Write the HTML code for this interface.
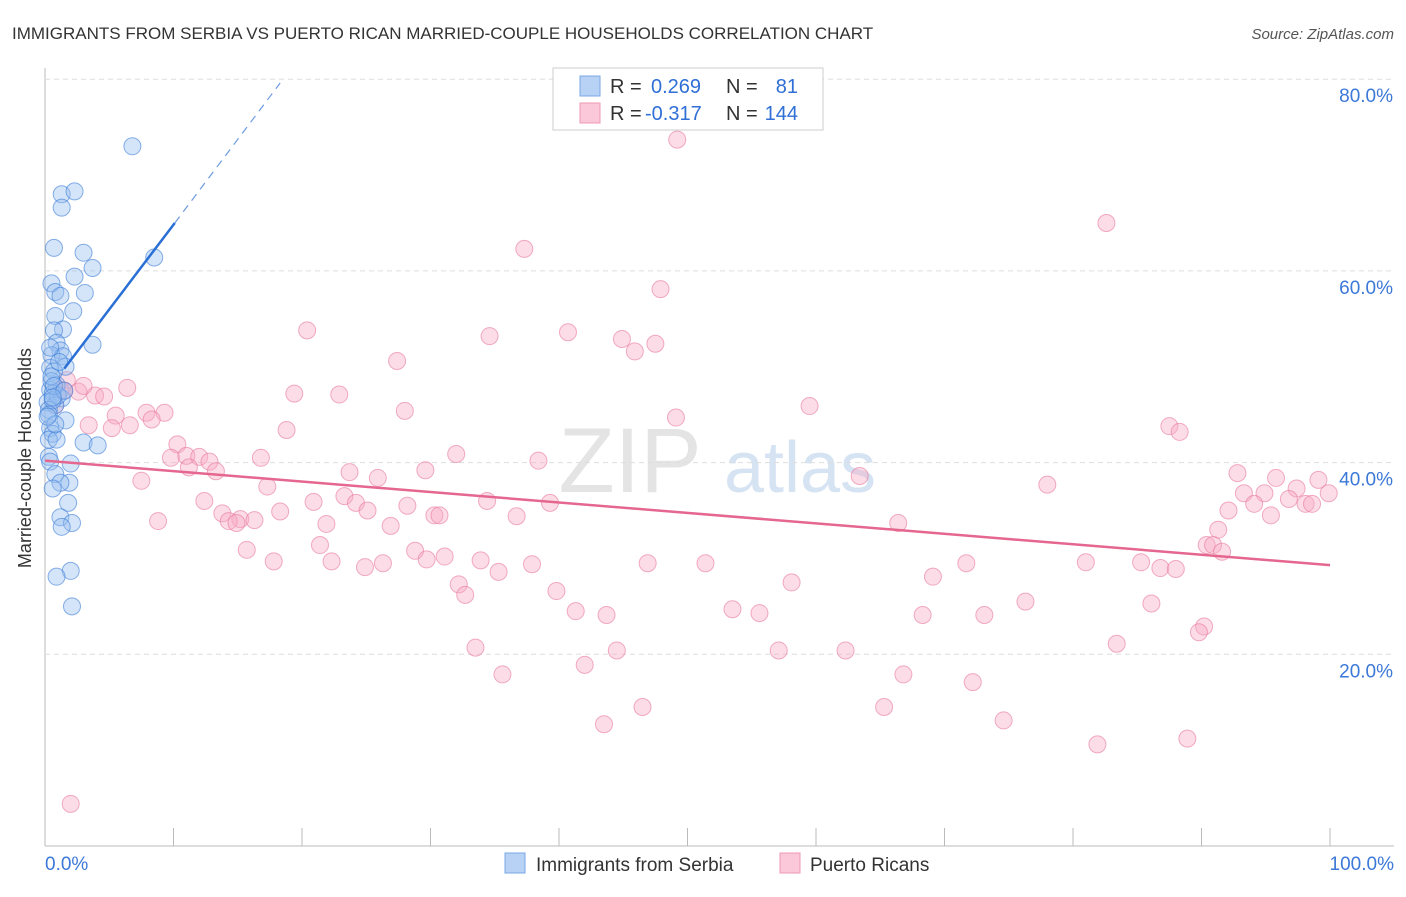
<!DOCTYPE html>
<html><head><meta charset="utf-8">
<style>
body{margin:0;background:#fff;font-family:"Liberation Sans",sans-serif;}
svg text{font-family:"Liberation Sans",sans-serif;}
</style></head>
<body>
<svg id="chart" width="1406" height="892" xmlns="http://www.w3.org/2000/svg">
<text x="12" y="39" font-size="17" fill="#333">IMMIGRANTS FROM SERBIA VS PUERTO RICAN MARRIED-COUPLE HOUSEHOLDS CORRELATION CHART</text>
<text x="1394" y="39" font-size="15" fill="#555" text-anchor="end" font-style="italic">Source: ZipAtlas.com</text>
<text x="31" y="458" font-size="18" fill="#333" text-anchor="middle" transform="rotate(-90 31 458)">Married-couple Households</text>
<g><text x="630" y="492" font-size="92" fill="#e4e4e4" text-anchor="middle" font-family="Liberation Serif">ZIP</text><text x="800" y="492" font-size="72" fill="#d6e3f3" text-anchor="middle">atlas</text></g>
<g id="grid"></g><g id="pts"></g><g id="lines"></g>
<g>
<rect x="553" y="68" width="270" height="62" fill="#fff" stroke="#ccc"/>
<rect x="580" y="76" width="20" height="20" fill="#b8d2f5" stroke="#7aa7e6"/>
<rect x="580" y="103" width="20" height="20" fill="#fac8d8" stroke="#ef9ab5"/>
<text x="610" y="93" font-size="20" fill="#333">R = </text><text x="651" y="93" font-size="20" fill="#2f6fd6">0.269</text>
<text x="726" y="93" font-size="20" fill="#333">N = </text><text x="798" y="93" font-size="20" fill="#2f6fd6" text-anchor="end">81</text>
<text x="610" y="120" font-size="20" fill="#333">R = </text><text x="645" y="120" font-size="20" fill="#2f6fd6">-0.317</text>
<text x="726" y="120" font-size="20" fill="#333">N = </text><text x="798" y="120" font-size="20" fill="#2f6fd6" text-anchor="end">144</text>
</g>
<g>
<rect x="505" y="853" width="20" height="20" fill="#b8d2f5" stroke="#7aa7e6"/>
<text x="536" y="871" font-size="19" fill="#333">Immigrants from Serbia</text>
<rect x="780" y="853" width="20" height="20" fill="#fac8d8" stroke="#ef9ab5"/>
<text x="810" y="871" font-size="19" fill="#333">Puerto Ricans</text>
</g>
</svg>
<script>
const xTickLabels=["0.0%","100.0%"];
const yTicks=[20,40,60,80];
const yTickLabels=["20.0%","40.0%","60.0%","80.0%"];
const blueX=[6.8,1.3,2.3,1.3,0.7,3,8.5,3.7,2.3,0.5,0.8,1.2,3.1,2.2,0.8,1.4,0.7,3.7,0.9,1.2,0.5,1.4,1.6,0.4,0.7,0.9,0.4,0.6,1.3,0.2,0.8,0.3,1.6,0.4,0.6,0.3,0.9,3,4.1,0.3,0.4,2,0.8,1.9,1.2,0.6,1.8,1.2,2.1,1.3,2,0.9,2.1,0.5,1,0.6,0.3,0.8,0.5,1.1,0.4,0.7,0.2,1.5,0.6];
const blueY=[73,68,68.3,66.6,62.4,61.9,61.4,60.3,59.4,58.7,57.8,57.4,57.7,55.8,55.3,53.9,53.8,52.3,52.5,51.7,51.2,51.1,50,49.9,49.5,48.1,47.6,47.2,46.7,46.3,46,45.5,44.4,43.6,43,42.4,42.4,42.1,41.8,40.6,40.1,39.9,38.8,37.9,37.9,37.3,35.8,34.3,33.7,33.3,28.7,28.1,25,48.5,47,46.5,45,44,49,50.5,52,48,44.8,47.5,46.8];
const pinkX=[49.2,82.6,37.3,47.9,20.4,34.6,40.7,44.9,47.5,45.9,27.4,6.4,19.4,22.9,1.7,1.2,2.6,3.9,4.6,28,59.5,49.1,7.9,9.3,8.3,5.5,6.6,5.2,3.4,18.8,87.5,88.3,10.3,9.8,11,12,12.8,16.8,32,38.4,29.6,23.7,25.9,11.2,13.3,7.5,17.3,63.4,78,92.8,95.8,99.1,93.3,94.9,97.4,99.9,96.8,98.1,98.6,94.1,95.4,92.1,12.4,13.8,15.2,16.3,14.3,8.8,20.9,23.3,24.2,25.1,28.2,34.4,39.3,30.3,30.7,36.7,14.9,21.9,26.9,18.3,91.3,90.4,90.9,91.6,66.4,15.7,21.4,17.8,22.3,26.3,28.8,29.7,31.1,24.9,33.9,35.3,37.9,46.9,51.4,71.7,81,85.3,32.2,32.7,39.8,58.1,69.1,86.8,88,41.3,43.7,53.5,55.6,68.3,73.1,76.3,86.1,90.2,89.8,33.5,57.1,62.3,83.4,44.5,42,66.8,72.2,35.6,65.3,46.5,74.6,43.5,88.9,81.9,2,3,1.5,0.8];
const pinkY=[73.7,65,62.3,58.1,53.8,53.2,53.6,52.9,52.4,51.6,50.6,47.8,47.2,47.1,48.6,47.6,47.4,47,46.9,45.4,45.9,44.7,45.2,45.2,44.5,44.9,43.9,43.6,43.9,43.4,43.8,43.2,41.9,40.5,40.7,40.6,40.1,40.5,40.9,40.2,39.2,39,38.4,39.5,39.1,38.1,37.5,38.6,37.7,38.9,38.4,38.2,36.8,36.8,37.3,36.8,36.2,35.7,35.7,35.7,34.5,35,36,34.7,34.1,34.0,33.9,33.9,35.9,36.5,35.8,35,35.5,36,35.8,34.5,34.5,34.4,33.7,33.6,33.4,34.9,33.0,31.4,31.4,30.7,33.7,30.9,31.4,29.7,29.7,29.5,30.8,29.9,30.2,29.1,29.8,28.6,29.4,29.5,29.5,29.5,29.6,29.6,27.3,26.2,26.6,27.5,28.1,29.0,28.9,24.5,24.1,24.7,24.3,24.1,24.1,25.5,25.3,22.9,22.3,20.7,20.4,20.4,21.1,20.4,18.9,17.9,17.1,17.9,14.5,14.5,13.1,12.7,11.2,10.6,4.4,48,47.5,46,45];
const blueTrend=[[1.5,49.8],[10.1,65]];
const blueTrendExt=[[10.1,65],[18.3,79.6]];
const pinkTrend=[[0,40.2],[100,29.3]];
const X=v=>45+v*12.85, Y=v=>846-v*9.585;
const NS="http://www.w3.org/2000/svg";
function mk(tag,attrs,parent){const e=document.createElementNS(NS,tag);for(const k in attrs)e.setAttribute(k,attrs[k]);document.getElementById(parent).appendChild(e);return e;}
let ax=mk('line',{x1:45,y1:68,x2:45,y2:846,stroke:'#bbb'},'grid');


let bx=mk('line',{x1:45,y1:846,x2:1394,y2:846,stroke:'#bbb'},'grid');


for(let i=1;i<=10;i++){let t=mk('line',{x1:X(i*10),y1:828,x2:X(i*10),y2:846,stroke:'#bbb'},'grid');

}
yTicks.forEach((v,i)=>{let g=mk('line',{x1:45,y1:Y(v),x2:1394,y2:Y(v),stroke:'#ddd','stroke-dasharray':'5,4'},'grid');


let t=mk('text',{x:1393,y:Y(v)+23,'font-size':19,fill:'#3c78d8','text-anchor':'end'},'grid');t.textContent=yTickLabels[i];

});
let xl=mk('text',{x:45,y:870,'font-size':19,fill:'#3c78d8'},'grid');xl.textContent=xTickLabels[0];


let xr=mk('text',{x:1394,y:870,'font-size':19,fill:'#3c78d8','text-anchor':'end'},'grid');xr.textContent=xTickLabels[1];


pinkX.forEach((v,i)=>{let c=mk('circle',{cx:X(v),cy:Y(pinkY[i]),r:8.5,fill:'rgba(247,170,195,0.4)',stroke:'rgba(232,120,158,0.6)','stroke-width':1},'pts');

});
blueX.forEach((v,i)=>{let c=mk('circle',{cx:X(v),cy:Y(blueY[i]),r:8.5,fill:'rgba(150,190,240,0.4)',stroke:'rgba(60,125,215,0.6)','stroke-width':1},'pts');

});
let l1=mk('line',{x1:X(blueTrend[0][0]),y1:Y(blueTrend[0][1]),x2:X(blueTrend[1][0]),y2:Y(blueTrend[1][1]),stroke:'#2a6fd6','stroke-width':2.5},'lines');


let l2=mk('line',{x1:X(blueTrendExt[0][0]),y1:Y(blueTrendExt[0][1]),x2:X(blueTrendExt[1][0]),y2:Y(blueTrendExt[1][1]),stroke:'#6c9be0','stroke-width':1.2,'stroke-dasharray':'8,6'},'lines');


let l3=mk('line',{x1:X(pinkTrend[0][0]),y1:Y(pinkTrend[0][1]),x2:X(pinkTrend[1][0]),y2:Y(pinkTrend[1][1]),stroke:'#e5668f','stroke-width':2.5},'lines');


</script>
</body></html>
